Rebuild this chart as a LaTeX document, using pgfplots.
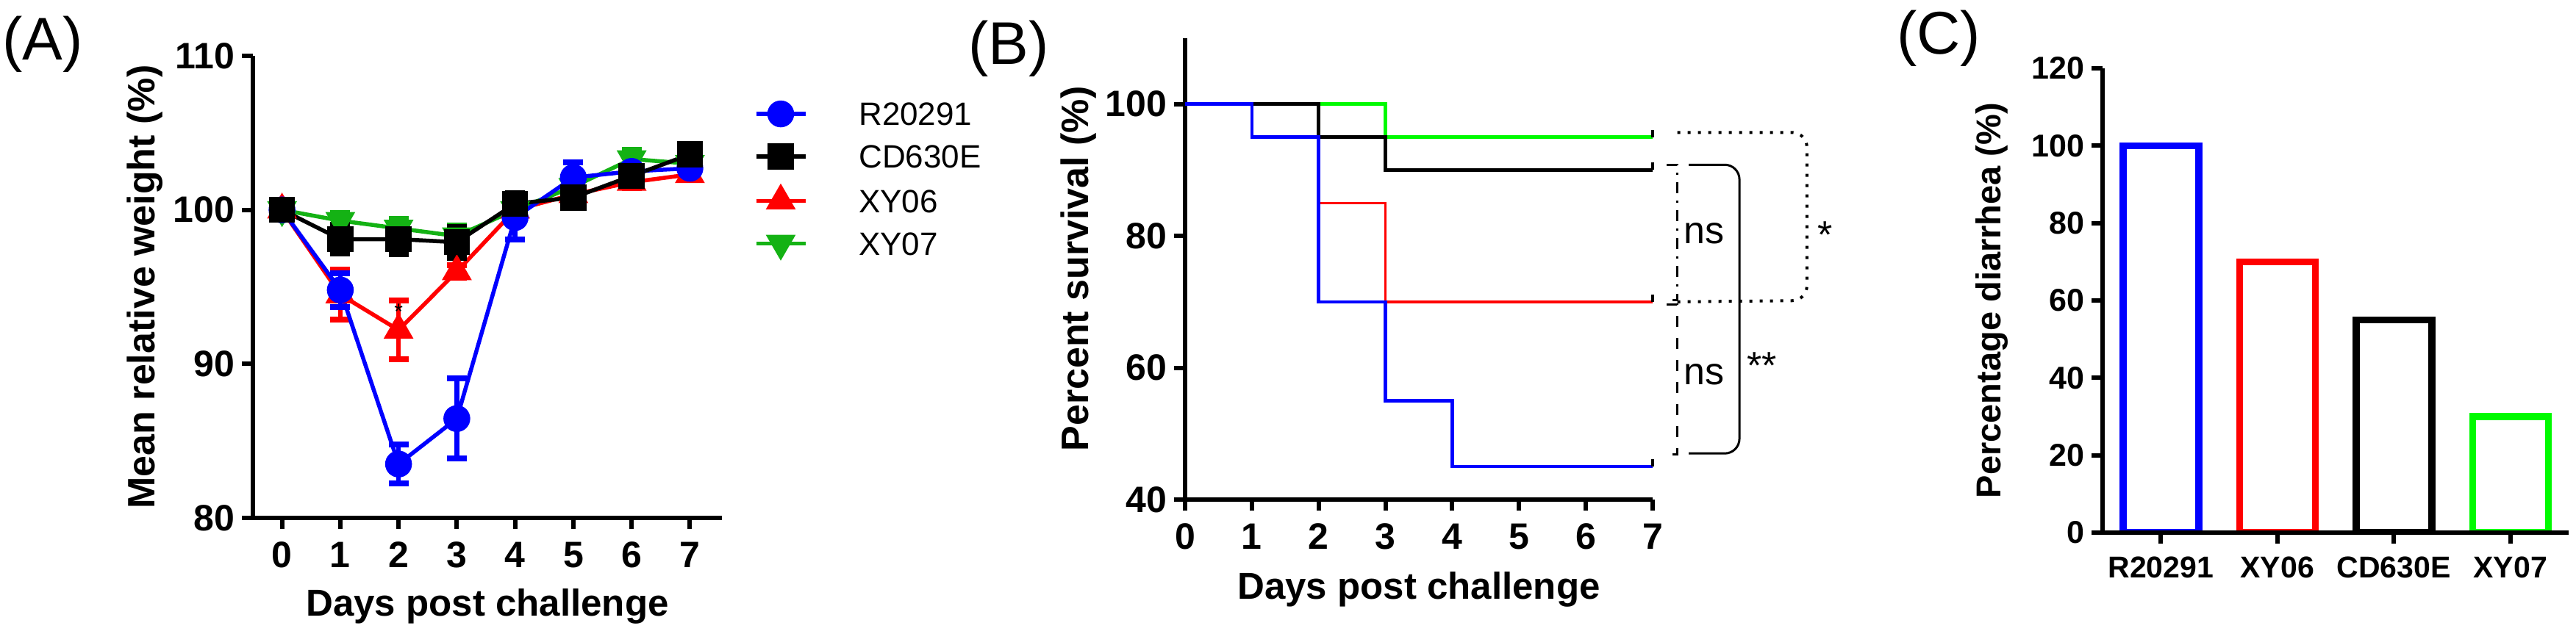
\documentclass[border=0pt]{standalone}
\usepackage{fontspec}
\setmainfont{Liberation Sans}
\usepackage{pgfplots}
\pgfplotsset{compat=1.18}
\usetikzlibrary{plotmarks}

\definecolor{cblue}{RGB}{0,0,255}
\definecolor{cred}{RGB}{255,0,0}
\definecolor{cgreenA}{RGB}{20,178,20}
\definecolor{cgreen}{RGB}{0,250,0}

% small upward tick at the censored end of a survival curve
\pgfdeclareplotmark{uptick}{%
  \pgfpathmoveto{\pgfpoint{0pt}{0pt}}%
  \pgfpathlineto{\pgfpoint{0pt}{2pt}}%
  \pgfusepathqstroke}

\pgfplotsset{
  prism/.style={
    scale only axis,
    axis x line=bottom, axis y line=left,
    axis line style={line width=1.2pt, -},
    tick align=outside,
    major tick length=3pt,
    every tick/.style={line width=1.2pt, black},
    /pgf/number format/assume math mode=true,
    yticklabel style={inner sep=1.8pt},
    enlargelimits=false,
    clip=false,
  },
  wt/.style={line width=1.1pt, mark options={solid},
    error bars/y dir=both, error bars/y explicit,
    error bars/error bar style={line width=1.3pt},
    error bars/error mark options={rotate=90, mark size=2.7pt, line width=1.6pt}},
}

\begin{document}
\begin{tikzpicture}
\useasboundingbox (0,0) rectangle (700.8pt,172.4pt);

% ---------------- (A) body weight ----------------
\begin{axis}[prism,
  at={(68.8pt,31.4pt)}, anchor=south west,
  width=127.6pt, height=125.8pt,
  xmin=-0.5, xmax=7.55, ymin=80, ymax=110,
  xtick={0,...,7}, ytick={80,90,100,110},
  tick label style={font=\fontsize{10}{12}\selectfont\bfseries},
  xlabel={Days post challenge},
  ylabel={Mean relative weight (\%)},
  xlabel style={font=\fontsize{10.2}{12}\selectfont\bfseries,
    at={(axis description cs:0.5,-0.2115)}, anchor=base},
  ylabel style={font=\fontsize{10.4}{12}\selectfont\bfseries,
    at={(axis description cs:-0.21,0.5)}, anchor=base},
  legend style={at={(rel axis cs:1.067,0.901)}, anchor=north west,
    draw=none, fill=none, inner sep=0pt,
    font=\fontsize{8.8}{10}\selectfont,
    row sep=5.3pt, column sep=14pt,
    nodes={inner sep=0pt, text height=6.3pt, text depth=0pt}},
  legend cell align=left,
  legend image code/.code={%
    \draw[mark repeat=2, mark phase=2, #1]
      plot coordinates {(0pt,0pt) (6.7pt,0pt) (13.4pt,0pt)};},
]
\addplot[wt, cred, mark=triangle*, mark size=3.6pt, forget plot]
  coordinates {(0,100) +- (0,0) (1,94.5) +- (0,1.6) (2,92.2) +- (0,1.9)
    (3,96.0) +- (0,0.4) (4,100.0) +- (0,0.4) (5,101.0) +- (0,0.4)
    (6,101.8) +- (0,0.4) (7,102.3) +- (0,0.3)};
\addplot[wt, cgreenA, mark=triangle*, mark size=3.6pt,
  mark options={rotate=180}, forget plot]
  coordinates {(0,100) +- (0,0) (1,99.3) +- (0,0.5) (2,98.8) +- (0,0.6)
    (3,98.3) +- (0,0.7) (4,100.0) +- (0,0.4) (5,101.5) +- (0,0.4)
    (6,103.3) +- (0,0.6) (7,103.0) +- (0,0.4)};
\addplot[wt, cblue, mark=*, mark size=3.1pt, forget plot]
  coordinates {(0,100) +- (0,0) (1,94.8) +- (0,1.1) (2,83.5) +- (0,1.25)
    (3,86.45) +- (0,2.6) (4,99.5) +- (0,1.4) (5,102.1) +- (0,1.0)
    (6,102.5) +- (0,0.9) (7,102.7) +- (0,0.7)};
\addplot[wt, black, mark=square*, mark size=3pt, forget plot]
  coordinates {(0,100) +- (0,0.3) (1,98.1) +- (0,0.95) (2,98.1) +- (0,1.0)
    (3,97.9) +- (0,1.0) (4,100.4) +- (0,0.7) (5,100.8) +- (0,0.6)
    (6,102.2) +- (0,0.5) (7,103.6) +- (0,0.5)};
\node[font=\fontsize{6}{7}\selectfont, yshift=-1.3pt] at (axis cs:2,93.7) {*};

\addlegendimage{cblue, line width=1.1pt, mark=*, mark size=3.1pt}
\addlegendentry{R20291}
\addlegendimage{black, line width=1.1pt, mark=square*, mark size=3pt}
\addlegendentry{CD630E}
\addlegendimage{cred, line width=1.1pt, mark=triangle*, mark size=3.6pt}
\addlegendentry{XY06}
\addlegendimage{cgreenA, line width=1.1pt, mark=triangle*, mark size=3.6pt,
  mark options={rotate=180}}
\addlegendentry{XY07}
\end{axis}

% ---------------- (B) survival ----------------
\begin{axis}[prism,
  at={(322.4pt,36.4pt)}, anchor=south west,
  width=127.2pt, height=125.6pt,
  xmin=0, xmax=7, ymin=40, ymax=110,
  xtick={0,...,7}, ytick={40,60,80,100},
  tick label style={font=\fontsize{10}{12}\selectfont\bfseries},
  xlabel={Days post challenge},
  ylabel={Percent survival (\%)},
  xlabel style={font=\fontsize{10.2}{12}\selectfont\bfseries,
    at={(axis description cs:0.5,-0.215)}, anchor=base},
  ylabel style={font=\fontsize{10.4}{12}\selectfont\bfseries,
    at={(axis description cs:-0.2075,0.5)}, anchor=base},
]
\addplot[const plot, cgreen, line width=0.9pt] coordinates {(0,100) (3,95) (7,95)};
\addplot[const plot, cred, line width=0.7pt] coordinates {(0,100) (2,85) (3,70) (7,70)};
\addplot[const plot, black, line width=1.1pt] coordinates {(0,100) (2,95) (3,90) (7,90)};
\addplot[const plot, cblue, line width=0.9pt]
  coordinates {(0,100) (1,95) (2,70) (3,55) (4,45) (7,45)};
\addplot[only marks, mark=uptick, mark options={line width=0.7pt, black}]
  coordinates {(7,95) (7,90) (7,70) (7,45)};

% comparison brackets
\draw[line width=0.8pt, dotted, rounded corners=4pt]
  (axis cs:7.37,95.7) -- (axis cs:9.31,95.7) -- (axis cs:9.31,70.2) -- (axis cs:7.32,70.0);
\draw[line width=0.6pt, rounded corners=4pt]
  (axis cs:7.54,90.8) -- (axis cs:8.30,90.8) -- (axis cs:8.30,47.0) -- (axis cs:7.54,47.0);
\draw[line width=0.6pt, dash dot]
  (axis cs:7.21,90.8) -- (axis cs:7.37,90.8) -- (axis cs:7.37,70.3) -- (axis cs:7.21,70.3);
\draw[line width=0.6pt, dashed]
  (axis cs:7.21,69.6) -- (axis cs:7.37,69.6) -- (axis cs:7.37,46.9) -- (axis cs:7.25,46.9);
\node[font=\fontsize{10.4}{12}\selectfont, anchor=base] at (axis cs:7.77,78.9) {ns};
\node[font=\fontsize{10.4}{12}\selectfont, anchor=base] at (axis cs:7.77,57.4) {ns};
\node[font=\fontsize{10.4}{12}\selectfont, anchor=base] at (axis cs:9.58,78.2) {*};
\node[font=\fontsize{10.4}{12}\selectfont, anchor=base] at (axis cs:8.64,58.3) {**};
\end{axis}

% ---------------- (C) diarrhea ----------------
\begin{axis}[prism,
  at={(572pt,27.4pt)}, anchor=south west,
  width=126.8pt, height=126.4pt,
  clip=true, axis on top,
  xmin=-0.5, xmax=3.5, ymin=0, ymax=120,
  xtick={0,1,2,3}, xticklabels={R20291,XY06,CD630E,XY07},
  ytick={0,20,...,120},
  xticklabel style={font=\fontsize{8.2}{10}\selectfont\bfseries},
  yticklabel style={font=\fontsize{8.6}{10}\selectfont\bfseries},
  ylabel={Percentage diarrhea (\%)},
  ylabel style={font=\fontsize{9.4}{12}\selectfont\bfseries,
    at={(axis description cs:-0.218,0.5)}, anchor=base},
]
\addplot[ybar, bar width=20.6pt, bar shift=0pt, draw=cblue, fill=white, line width=1.9pt]
  coordinates {(0,100)};
\addplot[ybar, bar width=20.6pt, bar shift=0pt, draw=cred, fill=white, line width=1.9pt]
  coordinates {(1,70)};
\addplot[ybar, bar width=20.6pt, bar shift=0pt, draw=black, fill=white, line width=1.9pt]
  coordinates {(2,55)};
\addplot[ybar, bar width=20.6pt, bar shift=0pt, draw=cgreen, fill=white, line width=1.9pt]
  coordinates {(3,30)};
\end{axis}

% panel letters
\node[font=\fontsize{16.4}{18}\selectfont] at (11.6pt,160.4pt) {(A)};
\node[font=\fontsize{16.4}{18}\selectfont] at (274.4pt,159.2pt) {(B)};
\node[font=\fontsize{16.4}{18}\selectfont] at (527.4pt,162pt) {(C)};
\end{tikzpicture}
\end{document}
